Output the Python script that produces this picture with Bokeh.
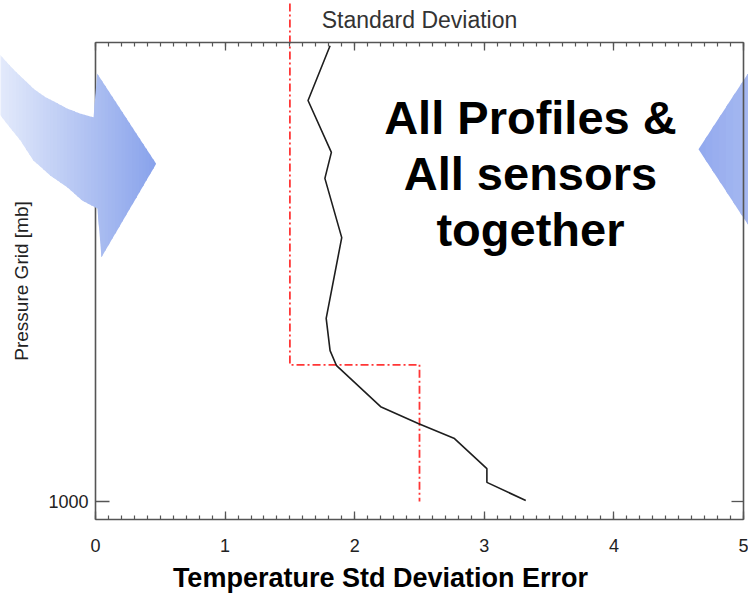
from bokeh.plotting import figure
from bokeh.models import (Range1d, LinearAxis, SingleIntervalTicker, FixedTicker,
                          PolyAnnotation, Label)
from bokeh.embed import file_html
from bokeh.resources import INLINE

# ---- data ----
pressure = [0, 120, 234, 291, 421, 598, 669, 702, 792, 829, 862, 928, 958, 998]
std_err = [1.81, 1.64, 1.82, 1.77, 1.90, 1.78, 1.81, 1.86, 2.20, 2.49, 2.77, 3.02, 3.02, 3.32]
req_err = [1.5, 1.5, 2.5, 2.5]
req_p = [-93, 700, 700, 1000]
x_ticks = [0, 1, 2, 3, 4, 5]
y_ticks = [1000]

title_text = "Standard Deviation"
xlabel_text = "Temperature Std Deviation Error"
ylabel_text = "Pressure Grid [mb]"
note_lines = ["All Profiles &", "All sensors", "together"]

# axis box (data units)
X_MIN, X_MAX = 0, 5
P_TOP, P_BOT = -7, 1040

# decorative arrows (data units)
left_arrow_x = [-0.80, -0.733, -0.656, -0.579, -0.478, -0.386, -0.309, -0.216, -0.116, -0.015,
                0.013, 0.468, 0.046, 0.015,
                -0.100, -0.216, -0.347, -0.478, -0.579, -0.656, -0.733, -0.80]
left_arrow_y = [0, 21, 45, 67, 94, 113, 124, 138, 149, 157,
                61, 259, 464, 357,
                340, 311, 285, 252, 208, 181, 153, 131]
right_arrow_x = [5.08, 4.653, 5.08]
right_arrow_y = [41, 227, 412]

FONT = "Liberation Sans"

p = figure(width=748, height=595, output_backend="svg", toolbar_location=None,
           x_range=Range1d(-0.733, 5.0386), y_range=Range1d(1206.3, -99.4),
           x_axis_location=None, y_axis_location=None,
           min_border=0, min_border_left=0, min_border_right=0,
           min_border_top=0, min_border_bottom=0)
for g in p.grid:
    g.visible = False
p.outline_line_color = None
p.background_fill_color = "white"
p.border_fill_color = "white"

AX = "#555555"


def style(ax, tin, min_in, labels):
    ax.axis_line_color = AX
    ax.axis_line_width = 1.6
    ax.major_tick_line_color = AX
    ax.minor_tick_line_color = AX
    ax.major_tick_line_width = 1.3
    ax.minor_tick_line_width = 1.2
    ax.major_tick_in = tin
    ax.major_tick_out = 0
    ax.minor_tick_in = min_in
    ax.minor_tick_out = 0
    ax.major_label_text_font = FONT
    ax.major_label_text_font_size = "18px"
    ax.major_label_text_color = "#222222" if labels else None


xb = LinearAxis(ticker=SingleIntervalTicker(interval=1, num_minor_ticks=10),
                fixed_location=P_BOT, bounds=(X_MIN, X_MAX))
style(xb, 8, 4, True)
xb.major_label_standoff = 19
p.add_layout(xb, "below")

xt = LinearAxis(ticker=SingleIntervalTicker(interval=1, num_minor_ticks=10),
                fixed_location=P_TOP, bounds=(X_MIN, X_MAX))
style(xt, 8, 4, False)
p.add_layout(xt, "above")

yl = LinearAxis(ticker=FixedTicker(ticks=y_ticks, minor_ticks=[]),
                fixed_location=X_MIN, bounds=(P_TOP, P_BOT))
style(yl, 14, 0, True)
yl.major_label_standoff = 7
yl.axis_label = ylabel_text
yl.axis_label_text_font = FONT
yl.axis_label_text_font_style = "normal"
yl.axis_label_text_font_size = "19px"
yl.axis_label_text_color = "#222222"
yl.axis_label_standoff = 13
p.add_layout(yl, "left")

yr = LinearAxis(ticker=FixedTicker(ticks=y_ticks, minor_ticks=[]),
                fixed_location=X_MAX, bounds=(P_TOP, P_BOT))
style(yr, 12, 0, False)
p.add_layout(yr, "right")

# ---- decorative gradient arrows ----
def clip(pts, a, keep_greater):
    out = []
    n = len(pts)
    for i in range(n):
        x1, y1 = pts[i - 1]
        x2, y2 = pts[i]
        in1 = x1 >= a if keep_greater else x1 <= a
        in2 = x2 >= a if keep_greater else x2 <= a
        if in2:
            if not in1:
                t = (a - x1) / (x2 - x1)
                out.append((a, y1 + t * (y2 - y1)))
            out.append((x2, y2))
        elif in1:
            t = (a - x1) / (x2 - x1)
            out.append((a, y1 + t * (y2 - y1)))
    return out


def mix(c0, c1, t):
    t = max(0.0, min(1.0, t))
    return "#%02x%02x%02x" % tuple(int(round(a + (b - a) * t)) for a, b in zip(c0, c1))


def gradient_poly(xs, ys, c0, c1, n, level):
    pts = list(zip(xs, ys))
    x0, x1 = min(xs), max(xs)
    w = (x1 - x0) / n
    for i in range(n):
        a = x0 + i * w
        b = a + w * 1.3
        poly = clip(clip(pts, a, True), b, False)
        if len(poly) < 3:
            continue
        col = mix(c0, c1, (i + 0.5) / n)
        p.add_layout(PolyAnnotation(xs=[q[0] for q in poly], ys=[q[1] for q in poly],
                                    fill_color=col, fill_alpha=1.0, line_alpha=0,
                                    level=level))


gradient_poly(left_arrow_x, left_arrow_y, (0xe8, 0xee, 0xfc), (0x88, 0xa2, 0xeb), 48, "annotation")
gradient_poly(right_arrow_x, right_arrow_y, (0x92, 0xa9, 0xee), (0xa8, 0xba, 0xf1), 8, "underlay")

# ---- data lines ----
RED = "#ff3636"
p.line(req_err, req_p, line_color=RED, line_width=1.8, line_dash="8 3 2 3")
p.line(std_err, pressure, line_color="#1e1e1e", line_width=1.6)

# ---- texts ----
p.add_layout(Label(x=2.5, y=-57, text=title_text, text_align="center", text_baseline="alphabetic",
                   text_font=FONT, text_font_size="23px", text_color="#333333"))
p.add_layout(Label(x=3.80, y=1167, text=xlabel_text, text_align="right", text_baseline="alphabetic",
                   text_font=FONT, text_font_size="27px", text_font_style="bold", text_color="#000000"))
for line, yy in zip(note_lines, [157, 281, 404]):
    p.add_layout(Label(x=3.356, y=yy, text=line, text_align="center", text_baseline="alphabetic",
                       text_font=FONT, text_font_size="47px", text_font_style="bold",
                       text_color="#000000"))

open("out.html", "w").write(file_html(p, INLINE))
